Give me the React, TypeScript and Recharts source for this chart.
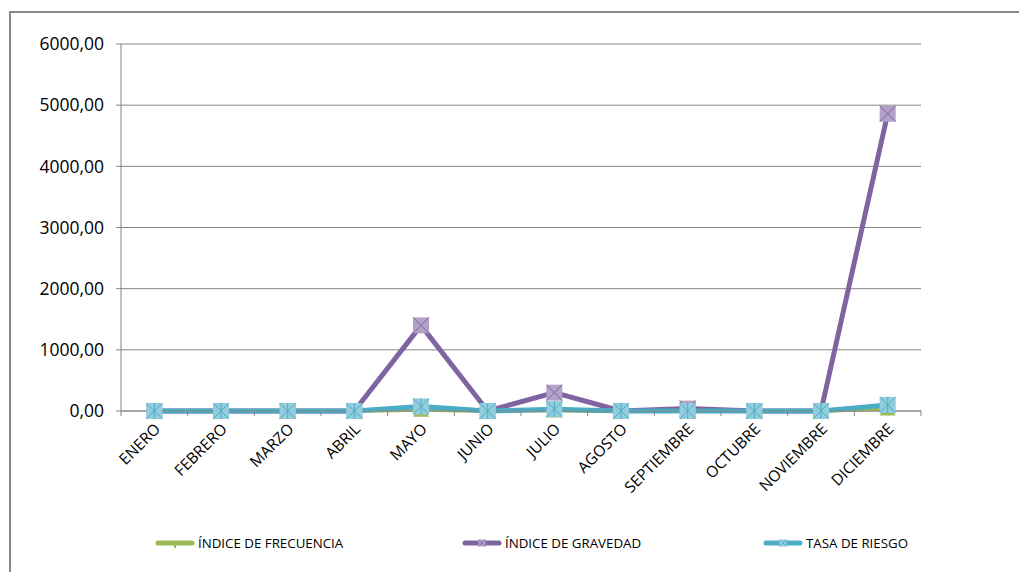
import React from 'react';
import { LineChart, Line, XAxis, YAxis, CartesianGrid } from 'recharts';

const months = [
  'ENERO', 'FEBRERO', 'MARZO', 'ABRIL', 'MAYO', 'JUNIO',
  'JULIO', 'AGOSTO', 'SEPTIEMBRE', 'OCTUBRE', 'NOVIEMBRE', 'DICIEMBRE',
];
const indiceFrecuencia = [0, 0, 0, 0, 20, 0, 10, 0, 0, 0, 0, 40];
const indiceGravedad = [0, 0, 0, 0, 1400, 0, 300, 0, 40, 0, 0, 4860];
const tasaRiesgo = [0, 0, 0, 0, 75, 0, 30, 0, 0, 0, 0, 100];
const yTicks = [0, 1000, 2000, 3000, 4000, 5000, 6000];

const seriesNames = ['ÍNDICE DE FRECUENCIA', 'ÍNDICE DE GRAVEDAD', 'TASA DE RIESGO'];
const seriesColors = ['#9BBB59', '#8064A2', '#4BACC6'];
const markerFills = ['#9BBB59', '#B3A2C7', '#93CDDD'];

const data = months.map((m, i) => ({
  month: m,
  frecuencia: indiceFrecuencia[i],
  gravedad: indiceGravedad[i],
  riesgo: tasaRiesgo[i],
}));

const FONT = '"Open Sans", "Noto Sans", sans-serif';
const GRID = '#868686';
const BAND = 800 / 12;

const fmt = (v: number) => v.toFixed(2).replace('.', ',');

const MonthTick = (props: any) => {
  const { x, y, payload, index } = props;
  const last = index === months.length - 1;
  return (
    <g transform={`translate(${x},${y})`}>
      <line x1={-BAND / 2} y1={0} x2={-BAND / 2} y2={5} stroke={GRID} />
      {last && <line x1={BAND / 2} y1={0} x2={BAND / 2} y2={5} stroke={GRID} />}
      <text
        x={7}
        y={19}
        transform="rotate(-45 7 19)"
        textAnchor="end"
        fontSize={15.5}
        fontFamily={FONT}
        fill="#000"
      >
        {payload.value}
      </text>
    </g>
  );
};

const triDot = (props: any) => {
  const { cx, cy, index } = props;
  return (
    <polygon
      key={`f-${index}`}
      points={`${cx - 8},${cy + 7} ${cx + 8},${cy + 7} ${cx},${cy - 7}`}
      fill={markerFills[0]}
    />
  );
};

const xDot = (props: any) => {
  const { cx, cy, index } = props;
  return (
    <g key={`g-${index}`}>
      <rect x={cx - 8} y={cy - 8} width={16} height={16} fill={markerFills[1]} />
      <line x1={cx - 8} y1={cy - 8} x2={cx + 8} y2={cy + 8} stroke={seriesColors[1]} />
      <line x1={cx - 8} y1={cy + 8} x2={cx + 8} y2={cy - 8} stroke={seriesColors[1]} />
    </g>
  );
};

const starDot = (props: any) => {
  const { cx, cy, index } = props;
  return (
    <g key={`r-${index}`}>
      <rect x={cx - 8} y={cy - 8} width={16} height={16} fill={markerFills[2]} />
      <line x1={cx - 8} y1={cy - 8} x2={cx + 8} y2={cy + 8} stroke={seriesColors[2]} />
      <line x1={cx - 8} y1={cy + 8} x2={cx + 8} y2={cy - 8} stroke={seriesColors[2]} />
      <line x1={cx} y1={cy - 8} x2={cx} y2={cy + 8} stroke={seriesColors[2]} />
    </g>
  );
};

const legendLeft = [147, 454, 755];

const LegendIcon = ({ i }: { i: number }) => (
  <svg width={40} height={10} style={{ display: 'block' }}>
    <line x1={3} y1={5} x2={37} y2={5} stroke={seriesColors[i]} strokeWidth={5} strokeLinecap="round" />
    {i === 0 && <rect x={19} y={5} width={2} height={5} fill={seriesColors[0]} />}
    {i > 0 && (
      <g>
        <rect x={16.5} y={1.5} width={7} height={7} fill={markerFills[i]} />
        <line x1={16.5} y1={1.5} x2={23.5} y2={8.5} stroke={seriesColors[i]} strokeWidth={0.8} />
        <line x1={16.5} y1={8.5} x2={23.5} y2={1.5} stroke={seriesColors[i]} strokeWidth={0.8} />
      </g>
    )}
  </svg>
);

export default function App() {
  return (
    <div style={{ position: 'relative', width: 1019, height: 564, overflow: 'hidden' }}>
      <div
        style={{
          position: 'absolute',
          left: 1,
          top: 3,
          width: 1060,
          height: 620,
          border: '2px solid #898989',
          boxSizing: 'border-box',
        }}
      />
      <div style={{ position: 'absolute', left: 0, top: 0 }}>
        <LineChart
          width={1010}
          height={500}
          data={data}
          margin={{ top: 36, right: 97, left: 0, bottom: 0 }}
        >
          <CartesianGrid vertical={false} stroke={GRID} strokeWidth={1} />
          <XAxis
            dataKey="month"
            padding={{ left: BAND / 2, right: BAND / 2 }}
            height={97}
            interval={0}
            tickLine={false}
            tickSize={0}
            tickMargin={0}
            axisLine={{ stroke: GRID }}
            tick={<MonthTick />}
          />
          <YAxis
            width={113}
            domain={[0, 6000]}
            ticks={yTicks}
            tickFormatter={fmt}
            tickSize={5}
            tickMargin={12}
            axisLine={{ stroke: GRID }}
            tickLine={{ stroke: GRID }}
            tick={{ fill: '#000', fontSize: 17.5, fontFamily: FONT }}
          />
          <Line
            dataKey="frecuencia"
            name={seriesNames[0]}
            stroke={seriesColors[0]}
            strokeWidth={4}
            dot={triDot}
            isAnimationActive={false}
          />
          <Line
            dataKey="gravedad"
            name={seriesNames[1]}
            stroke={seriesColors[1]}
            strokeWidth={5}
            dot={xDot}
            isAnimationActive={false}
          />
          <Line
            dataKey="riesgo"
            name={seriesNames[2]}
            stroke={seriesColors[2]}
            strokeWidth={5}
            dot={starDot}
            isAnimationActive={false}
          />
        </LineChart>
      </div>
      {seriesNames.map((n, i) => (
        <div
          key={n}
          style={{
            position: 'absolute',
            left: legendLeft[i],
            top: 526,
            display: 'flex',
            alignItems: 'center',
            fontFamily: FONT,
            fontSize: 13.3,
            color: '#000',
            whiteSpace: 'nowrap',
          }}
        >
          <LegendIcon i={i} />
          <span style={{ marginLeft: 3 }}>{n}</span>
        </div>
      ))}
    </div>
  );
}
